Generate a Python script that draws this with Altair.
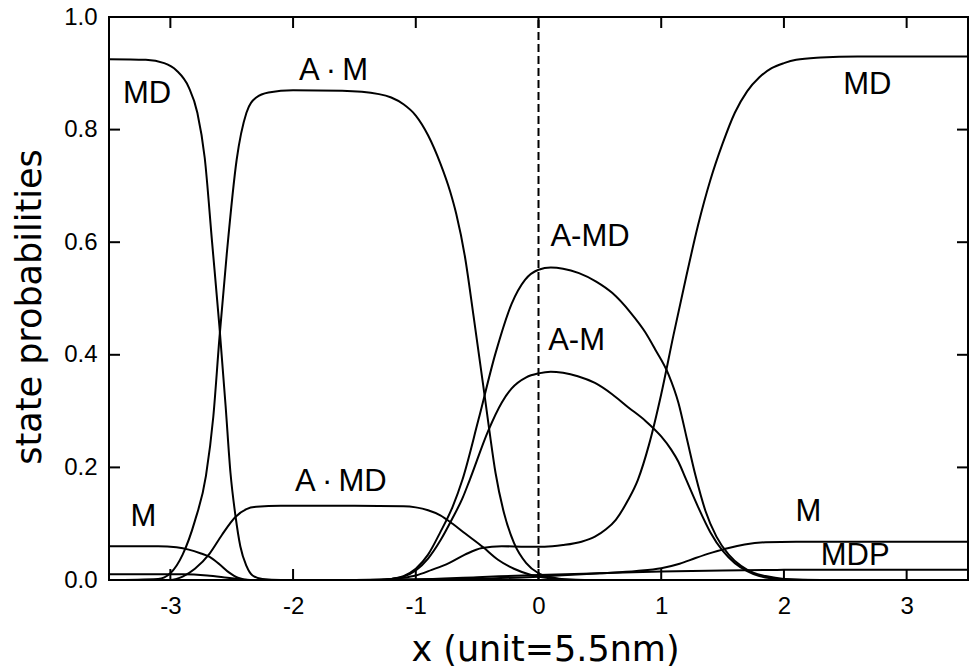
import altair as alt
import pandas as pd

FONT = "Liberation Sans"
TITLE_FONT = "DejaVu Sans"

# ---- series ----
md_x = [-3.5, -3.2, -3.05, -2.95, -2.85, -2.78, -2.72, -2.66, -2.6, -2.55,
        -2.51, -2.47, -2.43, -2.38, -2.33, -2.25, -2.1, -1.8, -1.5, -1.25,
        -1.1, -1.0, -0.87, -0.73, -0.6, -0.46, -0.3, -0.1, 0.05, 0.2,
        0.35, 0.46, 0.55, 0.63, 0.73, 0.81, 0.9, 1.0, 1.1, 1.2,
        1.3, 1.4, 1.5, 1.6, 1.7, 1.8, 1.9, 2.0, 2.1, 2.3, 2.6, 3.0, 3.5]
md_y = [0.925, 0.924, 0.918, 0.905, 0.875, 0.83, 0.75, 0.6, 0.45, 0.31,
        0.19, 0.115, 0.06, 0.025, 0.008, 0.002, 0.0, 0.0, 0.0, 0.001,
        0.004, 0.008, 0.018, 0.03, 0.045, 0.057, 0.06, 0.059, 0.059, 0.062,
        0.068, 0.077, 0.09, 0.107, 0.142, 0.178, 0.24, 0.33, 0.435, 0.535,
        0.63, 0.71, 0.775, 0.83, 0.868, 0.893, 0.909, 0.918, 0.924, 0.928, 0.93, 0.93, 0.93]

a_m_x = [-3.5, -3.1, -3.0, -2.9, -2.8, -2.71, -2.65, -2.6, -2.54, -2.46,
         -2.38, -2.3, -2.2, -2.0, -1.6, -1.3, -1.2, -1.1, -1.0, -0.9,
         -0.8, -0.72, -0.67, -0.6, -0.53, -0.45, -0.4, -0.35, -0.28, -0.2,
         -0.1, 0.0, 0.1, 0.25, 0.5, 3.5]
a_m_y = [0.0, 0.002, 0.012, 0.045, 0.105, 0.185, 0.29, 0.43, 0.58, 0.746,
         0.83, 0.857, 0.866, 0.87, 0.869, 0.863, 0.857, 0.845, 0.825, 0.79,
         0.74, 0.69, 0.65, 0.575, 0.47, 0.345, 0.265, 0.19, 0.118, 0.066,
         0.03, 0.012, 0.005, 0.001, 0.0, 0.0]

a_md_x = [-3.5, -3.0, -2.95, -2.9, -2.8, -2.68, -2.58, -2.47, -2.38, -2.3,
          -2.1, -1.5, -1.1, -1.0, -0.9, -0.8, -0.7, -0.6, -0.45, -0.33,
          -0.2, -0.06, 0.1, 0.3, 3.5]
a_md_y = [0.0, 0.0, 0.002, 0.006, 0.02, 0.047, 0.08, 0.112, 0.126, 0.13,
          0.132, 0.132, 0.131, 0.129, 0.124, 0.115, 0.1, 0.083, 0.058, 0.036,
          0.02, 0.009, 0.003, 0.0, 0.0]

m_x = [-3.5, -3.1, -2.95, -2.85, -2.75, -2.68, -2.6, -2.52, -2.45, -2.35,
       -1.5, -0.5, 0.0, 0.5, 0.8, 1.0, 1.15, 1.28, 1.42, 1.55,
       1.68, 1.85, 2.1, 3.5]
m_y = [0.06, 0.06, 0.058, 0.054, 0.047, 0.041, 0.028, 0.013, 0.004, 0.0,
       0.0, 0.002, 0.006, 0.012, 0.016, 0.021, 0.029, 0.039, 0.049, 0.057,
       0.063, 0.067, 0.068, 0.068]

mdp_x = [-3.5, -2.9, -2.7, -2.5, -2.35, -1.5, -1.0, -0.5, 0.0, 0.5, 1.0, 1.5, 2.0, 3.5]
mdp_y = [0.01, 0.01, 0.008, 0.003, 0.0, 0.0, 0.001, 0.005, 0.009, 0.012, 0.015, 0.017, 0.018, 0.018]

amd_x = [-3.5, -1.3, -1.2, -1.1, -1.0, -0.9, -0.8, -0.7, -0.62, -0.49,
         -0.35, -0.22, -0.11, 0.0, 0.1, 0.2, 0.33, 0.47, 0.6, 0.75,
         0.87, 0.95, 1.06, 1.14, 1.21, 1.28, 1.36, 1.45, 1.55, 1.65,
         1.75, 1.85, 2.0, 2.3, 3.5]
amd_y = [0.0, 0.0, 0.002, 0.007, 0.02, 0.045, 0.085, 0.13, 0.178, 0.284,
         0.403, 0.49, 0.533, 0.551, 0.555, 0.553, 0.545, 0.53, 0.51, 0.475,
         0.44, 0.41, 0.365, 0.315, 0.25, 0.185, 0.123, 0.077, 0.045, 0.025,
         0.013, 0.007, 0.002, 0.0, 0.0]

am_x = [-3.5, -1.3, -1.2, -1.1, -1.0, -0.9, -0.8, -0.7, -0.62, -0.56,
        -0.41, -0.3, -0.22, -0.1, 0.0, 0.1, 0.2, 0.32, 0.46, 0.6,
        0.73, 0.87, 1.0, 1.08, 1.14, 1.2, 1.3, 1.4, 1.5, 1.6,
        1.7, 1.8, 1.95, 2.2, 3.5]
am_y = [0.0, 0.0, 0.002, 0.006, 0.017, 0.038, 0.07, 0.11, 0.145, 0.178,
        0.265, 0.315, 0.34, 0.36, 0.367, 0.37, 0.368, 0.362, 0.35, 0.33,
        0.307, 0.283, 0.255, 0.232, 0.21, 0.18, 0.13, 0.085, 0.052, 0.03,
        0.016, 0.007, 0.002, 0.0, 0.0]

# annotations
lab_text = ["MD", "A\u2009\u00b7\u2009M", "MD", "A-MD", "A-M", "A\u2009\u00b7\u2009MD", "M", "M", "MDP"]
lab_x = [-3.19, -1.67, 2.68, 0.42, 0.31, -1.61, -3.22, 2.2, 2.58]
lab_y = [0.863, 0.904, 0.88, 0.609, 0.425, 0.174, 0.112, 0.121, 0.042]

x_ticks = [-3, -2, -1, 0, 1, 2, 3]
y_ticks = [0.0, 0.2, 0.4, 0.6, 0.8, 1.0]
divider_x = [0]

series = {
    "MD": (md_x, md_y), "A.M": (a_m_x, a_m_y), "A.MD": (a_md_x, a_md_y),
    "M": (m_x, m_y), "MDP": (mdp_x, mdp_y), "A-MD": (amd_x, amd_y), "A-M": (am_x, am_y),
}
rows = []
for name, (xs, ys) in series.items():
    assert len(xs) == len(ys), name
    for xv, yv in zip(xs, ys):
        rows.append({"series": name, "x": xv, "p": yv})
df = pd.DataFrame(rows)
labels = pd.DataFrame({"text": lab_text, "x": lab_x, "p": lab_y})
divider = pd.DataFrame({"x": divider_x, "lo": [0.0], "hi": [1.0]})
xt = pd.DataFrame({"x": x_ticks})
yt = pd.DataFrame({"p": y_ticks})

W, H = 859, 563
TK = 11
xs_ = alt.Scale(domain=[-3.5, 3.5], nice=False, zero=False)
ys_ = alt.Scale(domain=[0, 1], nice=False, zero=False)

x_axis = alt.Axis(
    orient="bottom", values=x_ticks, ticks=False, tickSize=0, domain=False, grid=False,
    labelExpr="toString(datum.value)", labelFont=FONT, labelFontSize=24, labelColor="black",
    labelPadding=14, title="x (unit=5.5nm)", titleFont=TITLE_FONT, titleFontSize=35,
    titleFontWeight="normal", titleColor="black", titleX=436, titleY=69, titleBaseline="middle")
y_axis = alt.Axis(
    orient="left", values=y_ticks, ticks=False, tickSize=0, domain=False, grid=False,
    format=".1f", labelFont=FONT, labelFontSize=24, labelColor="black", labelPadding=12,
    title="state probabilities", titleFont=TITLE_FONT, titleFontSize=35, titleFontWeight="normal",
    titleColor="black", titleX=-80, titleY=H / 2 + 8, titleBaseline="middle", titleAngle=-90)

X = alt.X("x:Q", scale=xs_, axis=x_axis, title="x (unit=5.5nm)")
Y = alt.Y("p:Q", scale=ys_, axis=y_axis, title="state probabilities")

curves = alt.Chart(df).mark_line(
    interpolate="monotone", color="black", strokeWidth=2, clip=True
).encode(x=X, y=Y, detail="series:N")

rule = alt.Chart(divider).mark_rule(color="black", strokeWidth=2, strokeDash=[8, 4]).encode(
    x=X, y=alt.Y("lo:Q", scale=ys_, axis=y_axis, title="state probabilities"), y2="hi:Q",
)

tick_bottom = alt.Chart(xt).mark_rule(color="black", strokeWidth=2).encode(
    x=X, y=alt.value(H), y2=alt.value(H - TK))
tick_top = alt.Chart(xt).mark_rule(color="black", strokeWidth=2).encode(
    x=X, y=alt.value(0), y2=alt.value(TK))
tick_left = alt.Chart(yt).mark_rule(color="black", strokeWidth=2).encode(
    y=Y, x=alt.value(0), x2=alt.value(TK))
tick_right = alt.Chart(yt).mark_rule(color="black", strokeWidth=2).encode(
    y=Y, x=alt.value(W), x2=alt.value(W - TK))

text = alt.Chart(labels).mark_text(
    font=FONT, fontSize=31, color="black", align="center", baseline="middle"
).encode(x=X, y=Y, text="text:N")

chart = alt.layer(curves, rule, tick_bottom, tick_top, tick_left, tick_right, text).properties(
    width=W, height=H,
    autosize=alt.AutoSizeParams(type="none"),
    padding={"left": 109, "top": 17, "right": 5, "bottom": 89},
    background="white",
).configure_view(stroke="black", strokeWidth=2)

chart.save("out.html", embed_options={"renderer": "svg", "actions": False})
